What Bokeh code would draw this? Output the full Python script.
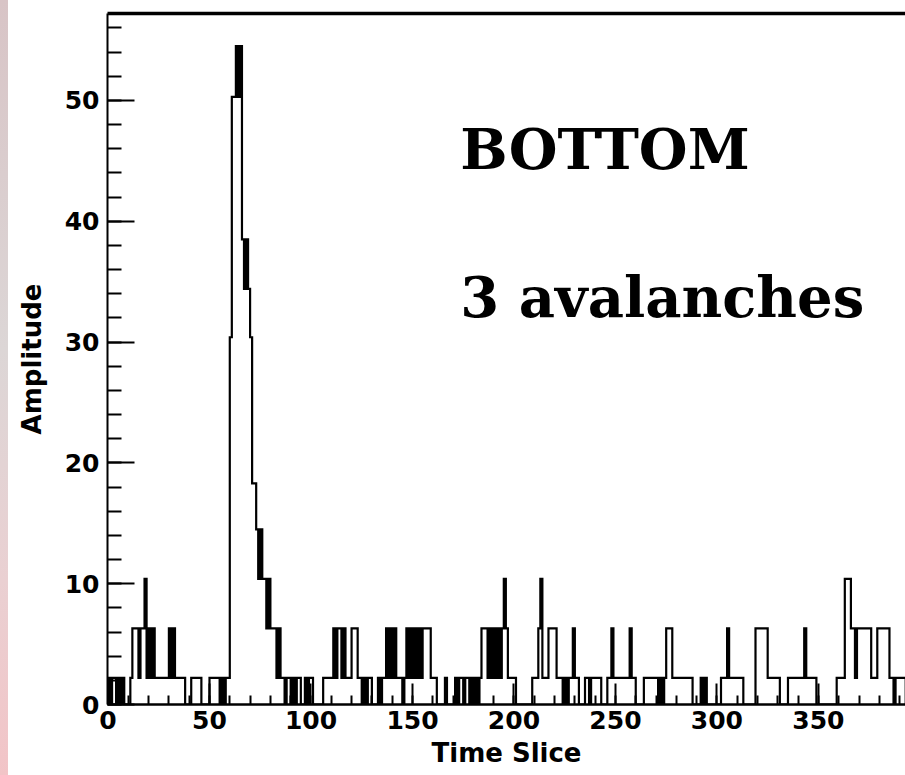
import numpy as np
from bokeh.plotting import figure
from bokeh.models import (SingleIntervalTicker, LinearAxis, FixedTicker, Label,
                          Range1d)
from bokeh.embed import file_html
from bokeh.resources import INLINE

# Amplitude per time slice (one bin per slice), split in blocks of 100 slices
amp_000_099 = [
    2.2, 0, 2.2, 2.2, 0, 2.2, 0, 2.2, 0, 0,
    0, 2.2, 6.3, 6.3, 6.3, 2.2, 6.3, 6.3, 10.4, 2.2,
    6.3, 2.2, 6.3, 2.2, 2.2, 2.2, 2.2, 2.2, 2.2, 2.2,
    6.3, 2.2, 6.3, 2.2, 2.2, 2.2, 2.2, 2.2, 0, 0,
    0, 2.2, 2.2, 2.2, 2.2, 2.2, 0, 0, 0, 0,
    2.2, 2.2, 2.2, 2.2, 2.2, 0, 2.2, 0, 2.2, 2.2,
    30.4, 50.3, 50.3, 54.5, 50.3, 54.5, 38.5, 34.4, 38.5, 34.4,
    30.4, 18.3, 18.3, 14.5, 10.4, 14.5, 10.4, 10.4, 6.3, 10.4,
    6.3, 6.3, 6.3, 2.2, 6.3, 2.2, 2.2, 0, 2.2, 2.2,
    0, 2.2, 0, 2.2, 2.2, 0, 0, 2.2, 0, 2.2,
]
amp_100_199 = [
    2.2, 0, 0, 0, 0, 0, 2.2, 2.2, 2.2, 2.2,
    2.2, 6.3, 2.2, 6.3, 6.3, 2.2, 6.3, 2.2, 2.2, 2.2,
    6.3, 6.3, 6.3, 2.2, 2.2, 0, 2.2, 0, 2.2, 2.2,
    0, 0, 0, 2.2, 0, 2.2, 2.2, 6.3, 2.2, 6.3,
    2.2, 6.3, 2.2, 2.2, 2.2, 0, 2.2, 6.3, 2.2, 6.3,
    2.2, 6.3, 2.2, 6.3, 2.2, 6.3, 6.3, 6.3, 6.3, 2.2,
    2.2, 2.2, 0, 0, 0, 0, 2.2, 0, 0, 0,
    0, 2.2, 0, 2.2, 2.2, 0, 2.2, 2.2, 0, 2.2,
    0, 2.2, 0, 2.2, 6.3, 6.3, 6.3, 2.2, 6.3, 2.2,
    6.3, 2.2, 6.3, 2.2, 6.3, 10.4, 6.3, 2.2, 2.2, 2.2,
]
amp_200_299 = [
    2.2, 0, 0, 0, 0, 0, 0, 0, 0, 2.2,
    2.2, 2.2, 6.3, 10.4, 2.2, 2.2, 2.2, 6.3, 6.3, 6.3,
    6.3, 2.2, 2.2, 2.2, 0, 2.2, 0, 2.2, 2.2, 6.3,
    2.2, 2.2, 0, 0, 0, 2.2, 2.2, 0, 2.2, 2.2,
    2.2, 2.2, 2.2, 0, 0, 0, 2.2, 2.2, 6.3, 2.2,
    2.2, 2.2, 2.2, 2.2, 2.2, 2.2, 2.2, 6.3, 2.2, 2.2,
    0, 0, 0, 0, 2.2, 2.2, 2.2, 2.2, 2.2, 2.2,
    2.2, 0, 2.2, 0, 2.2, 6.3, 6.3, 6.3, 2.2, 2.2,
    2.2, 2.2, 2.2, 2.2, 2.2, 2.2, 2.2, 2.2, 0, 0,
    0, 0, 2.2, 0, 2.2, 0, 0, 0, 0, 0,
]
amp_300_392 = [
    0, 0, 2.2, 2.2, 2.2, 6.3, 2.2, 2.2, 2.2, 2.2,
    2.2, 2.2, 2.2, 0, 0, 0, 0, 0, 0, 6.3,
    6.3, 6.3, 6.3, 6.3, 6.3, 2.2, 2.2, 2.2, 2.2, 2.2,
    2.2, 0, 0, 0, 0, 2.2, 2.2, 2.2, 2.2, 2.2,
    2.2, 2.2, 2.2, 6.3, 2.2, 2.2, 2.2, 2.2, 2.2, 0,
    0, 0, 0, 0, 0, 0, 0, 0, 0, 2.2,
    2.2, 2.2, 2.2, 10.4, 10.4, 10.4, 6.3, 6.3, 2.2, 6.3,
    6.3, 6.3, 6.3, 6.3, 6.3, 6.3, 2.2, 2.2, 2.2, 6.3,
    6.3, 6.3, 6.3, 6.3, 6.3, 2.2, 2.2, 0, 2.2, 2.2,
    2.2, 2.2, 2.2,
]

amplitude = np.array(amp_000_099 + amp_100_199 + amp_200_299 + amp_300_392, dtype=float)
edges = np.arange(len(amplitude) + 1)

# histogram outline: flat top over every bin, vertical joins between bins
step_x = np.repeat(edges, 2)
step_y = np.concatenate([[0.0], np.repeat(amplitude, 2), [0.0]])

# thin tinted strip down the left edge of the page, behind a transparent border
page_bg = ("linear-gradient(to bottom, #d8c4c6 0%, #dcd6d6 45%, #ead0d2 75%, #f2c4c7 100%) "
           "left top / 8px 100% no-repeat, #ffffff")

p = figure(width=905, height=775,
           x_range=Range1d(-0.25, 392.9), y_range=Range1d(0, 57.2),
           output_backend="svg", toolbar_location=None,
           min_border_left=107, min_border_right=0,
           min_border_top=13, min_border_bottom=71,
           x_axis_label="Time Slice", y_axis_label="Amplitude",
           styles={"background": page_bg})
p.grid.visible = False
p.outline_line_color = None
p.background_fill_color = "white"
p.border_fill_color = None

p.line(step_x, step_y, line_color="black", line_width=2.2, line_join="miter")

tick_font = "DejaVu Sans"

xa = p.xaxis[0]
xa.ticker = SingleIntervalTicker(interval=50, num_minor_ticks=5)
ya = p.yaxis[0]
ya.ticker = SingleIntervalTicker(interval=10, num_minor_ticks=5)

for ax in (xa, ya):
    ax.axis_line_color = "black"
    ax.major_tick_line_color = "black"
    ax.minor_tick_line_color = "black"
    ax.major_tick_out = 0
    ax.minor_tick_out = 0
    ax.major_tick_line_width = 2
    ax.minor_tick_line_width = 2
    ax.major_label_text_font = tick_font
    ax.major_label_text_font_style = "bold"
    ax.major_label_text_font_size = "25px"
    ax.major_label_text_color = "black"
    ax.axis_label_text_font = tick_font
    ax.axis_label_text_font_style = "bold"
    ax.axis_label_text_font_size = "26px"
    ax.axis_label_text_color = "black"

xa.axis_line_width = 2.5
xa.major_tick_in = 21
xa.minor_tick_in = 9
xa.major_label_standoff = 6
xa.axis_label_standoff = 6

ya.axis_line_width = 2
ya.major_tick_in = 27
ya.minor_tick_in = 14
ya.major_label_standoff = 8
ya.axis_label_standoff = 15

# heavy frame line along the top of the plot area
top = LinearAxis(ticker=FixedTicker(ticks=[]), axis_line_width=3.5,
                 axis_line_color="black", major_tick_in=0, major_tick_out=0,
                 minor_tick_in=0, minor_tick_out=0,
                 major_label_text_font_size="0px", major_label_standoff=0)
p.add_layout(top, "above")

for txt, yy in (("BOTTOM", 46.0), ("3 avalanches", 33.7)):
    p.add_layout(Label(x=173.6, y=yy, text=txt, text_font="DejaVu Serif",
                       text_font_style="bold", text_font_size="56px",
                       text_color="black", text_baseline="alphabetic"))

with open("out.html", "w") as f:
    f.write(file_html(p, INLINE))
